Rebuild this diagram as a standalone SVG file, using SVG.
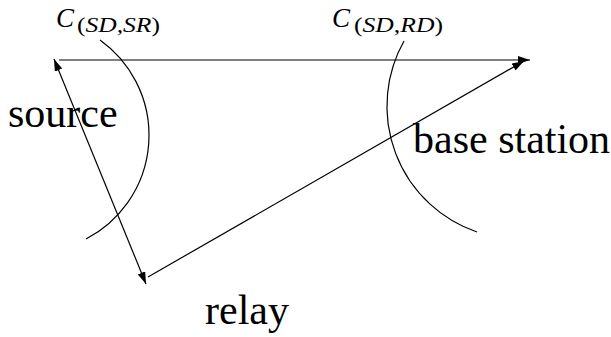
<svg xmlns="http://www.w3.org/2000/svg" width="611" height="337" viewBox="0 0 611 337">
<defs>
<marker id="ah" markerUnits="userSpaceOnUse" markerWidth="13" markerHeight="9" refX="12" refY="4" orient="auto-start-reverse">
<path d="M0,0 L12,4 L0,8 Z" fill="#000"/>
</marker>
</defs>
<style>
.ln{stroke:#000;stroke-width:1.2;fill:none}
.lbl{font-family:"Liberation Serif","Times New Roman",serif;font-size:42px;fill:#000}
.ci{font-family:"Liberation Serif","Times New Roman",serif;font-style:italic;fill:#000}
</style>
<rect width="611" height="337" fill="#fff"/>
<g id="arcs">
<path class="ln" d="M100,40 A117,117 0 0 1 86,239"/>
<path class="ln" d="M404,41 A133,133 0 0 0 477,232"/>
</g>
<g id="connectors">
<line class="ln" x1="59" y1="60" x2="530" y2="60" marker-end="url(#ah)"/>
<line class="ln" x1="54" y1="59" x2="146" y2="284" marker-start="url(#ah)" marker-end="url(#ah)"/>
<line class="ln" x1="148" y1="277" x2="524" y2="61" marker-end="url(#ah)"/>
</g>
<g id="source"><text class="lbl" x="8" y="127">source</text></g>
<g id="base-station"><text class="lbl" x="413" y="153">base station</text></g>
<g id="relay"><text class="lbl" x="205" y="324">relay</text></g>
<g id="label-sdsr">
<text class="ci" x="56" y="27" font-size="27">C</text>
<text class="ci" x="77" y="32" font-size="20" textLength="83" lengthAdjust="spacingAndGlyphs"><tspan font-style="normal">(</tspan>SD,SR<tspan font-style="normal">)</tspan></text>
</g>
<g id="label-sdrd">
<text class="ci" x="332" y="27" font-size="27">C</text>
<text class="ci" x="354" y="32" font-size="20" textLength="89" lengthAdjust="spacingAndGlyphs"><tspan font-style="normal">(</tspan>SD,RD<tspan font-style="normal">)</tspan></text>
</g>
</svg>
